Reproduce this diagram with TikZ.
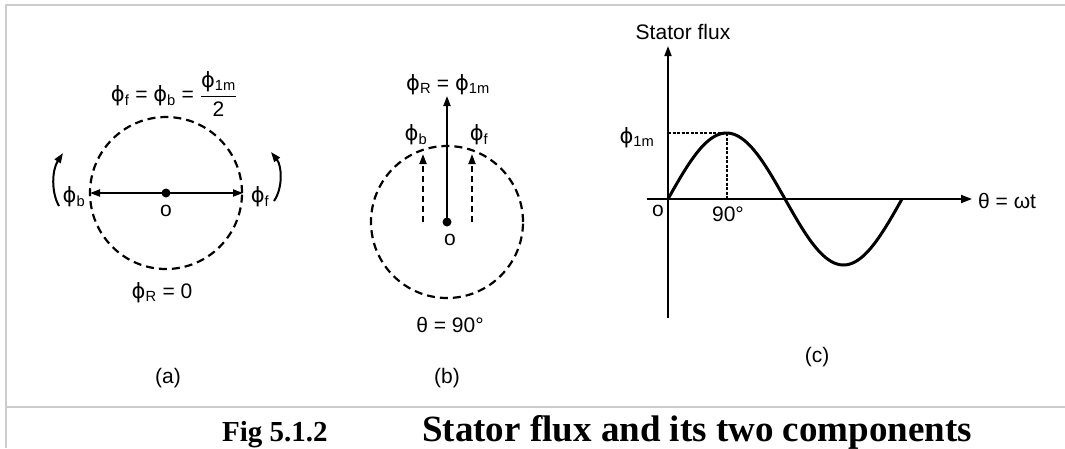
\documentclass[tikz,border=0pt]{standalone}
\usepackage{fontspec}
\usepackage{amsmath}
\setmainfont{Liberation Sans}
\newfontfamily\capfont{Liberation Serif}
\newfontfamily\phfont{DejaVu Sans}
\usetikzlibrary{arrows.meta}
\newcommand\ph[1]{{\phfont ϕ}\textsubscript{#1}}
\tikzset{
  frameline/.style={draw=black!20, line width=2pt},
  vec/.style={line width=2pt, -{Triangle[length=10pt,width=7pt]}},
  dvec/.style={line width=2pt, dash pattern=on 6pt off 4pt, -{Triangle[length=10pt,width=7pt]}},
  dcirc/.style={line width=2.2pt, dash pattern=on 8pt off 5pt},
  axis/.style={line width=1.8pt},
  guide/.style={line width=1.2pt, dash pattern=on 3pt off 1.5pt},
  curve/.style={line width=3pt},
  lbl/.style={font=\fontsize{21}{23}\selectfont, inner sep=0pt},
  figcap/.style={inner sep=0pt, anchor=base west},
  rotarrow/.style={line width=2pt, -{Triangle[length=10pt,width=7pt]}}
}
\begin{document}
\begin{tikzpicture}[x=1pt,y=-1pt]
\useasboundingbox (0,0) rectangle (1065,448);
% frame
\coordinate (ftl) at (6,5);
\coordinate (ftr) at (1065,5);
\coordinate (fbl) at (6,448);
\coordinate (fsl) at (6,407);
\coordinate (fsr) at (1065,407);
\draw[frameline] (fbl) -- (ftl) -- (ftr);
\draw[frameline] (fsl) -- (fsr);

% ---------- (a) ----------
\coordinate (oa) at (166,193);
\coordinate (al) at (90,193);
\coordinate (ar) at (243,193);
\draw[dcirc] (oa) circle[radius=76pt];
\draw[vec] (oa) -- (al);
\draw[vec] (oa) -- (ar);
\fill (oa) circle[radius=4.5pt];
\node[lbl] (oalbl) at (166,211) {o};
\node[lbl] (phb) at (74,197) {\ph{b}};
\node[lbl] (phf) at (260,197) {\ph{f}};
\coordinate (lt) at (59,206);
\coordinate (lh) at (63,153);
\coordinate (rt) at (274,201);
\coordinate (rh) at (271,152);
\draw[rotarrow] (lt) .. controls (51,192) and (52,170) .. (lh);
\draw[rotarrow] (rt) .. controls (283,188) and (282,166) .. (rh);
\node[lbl] (eqa) at (174,94) {\ph{f} = \ph{b} = $\dfrac{\text{\ph{1m}}}{\text{2}}$};
\node[lbl] (phr0) at (162,293) {\ph{R} = 0};
\node[lbl] (capa) at (168,378) {(a)};

% ---------- (b) ----------
\coordinate (ob) at (447,222);
\coordinate (bt) at (447,96);
\coordinate (blb) at (423,222);
\coordinate (blt) at (423,154);
\coordinate (brb) at (472,222);
\coordinate (brt) at (472,154);
\draw[dcirc] (ob) circle[radius=76pt];
\draw[vec] (ob) -- (bt);
\draw[dvec] (blb) -- (blt);
\draw[dvec] (brb) -- (brt);
\fill (ob) circle[radius=4.5pt];
\node[lbl] (oblbl) at (450,240) {o};
\node[lbl] (phrb) at (448,85) {\ph{R} = \ph{1m}};
\node[lbl] (phbb) at (416,135) {\ph{b}};
\node[lbl] (phfb) at (479,135) {\ph{f}};
\node[lbl] (theta) at (450,325) {θ = 90°};
\node[lbl] (capb) at (447,378) {(b)};

% ---------- (c) ----------
\coordinate (oc) at (668,199);
\coordinate (ytop) at (668,46);
\coordinate (ybot) at (668,318);
\coordinate (xl) at (647,199);
\coordinate (xr) at (972,199);
\coordinate (pk) at (727,133);
\coordinate (pkax) at (727,199);
\coordinate (pky) at (668,133);
\draw[axis] (ybot) -- (oc);
\draw[axis, -{Triangle[length=10pt,width=7pt]}] (oc) -- (ytop);
\draw[axis] (xl) -- (oc);
\draw[axis, -{Triangle[length=11pt,width=8pt]}] (oc) -- (xr);
\draw[guide] (pky) -- (pk);
\draw[guide] (pk) -- (pkax);
\draw[curve] plot[domain=0:360, samples=120, smooth] ({668+0.65*\x}, {199-66*sin(\x)});
\node[lbl] (stf) at (683,32) {Stator flux};
\node[lbl] (phm) at (637,138) {\ph{1m}};
\node[lbl] (ocl) at (658,211) {o};
\node[lbl] (n90) at (728,214) {90°};
\node[lbl, anchor=west] (thw) at (978,201) {θ = ωt};
\node[lbl] (capc) at (817,357) {(c)};

% ---------- caption ----------
\node[figcap, font=\capfont\bfseries\fontsize{29}{32}\selectfont] (fig) at (222,441) {Fig 5.1.2};
\node[figcap, font=\capfont\bfseries\fontsize{37}{40}\selectfont] (title) at (422,441) {Stator flux and its two components};
\end{tikzpicture}
\end{document}
